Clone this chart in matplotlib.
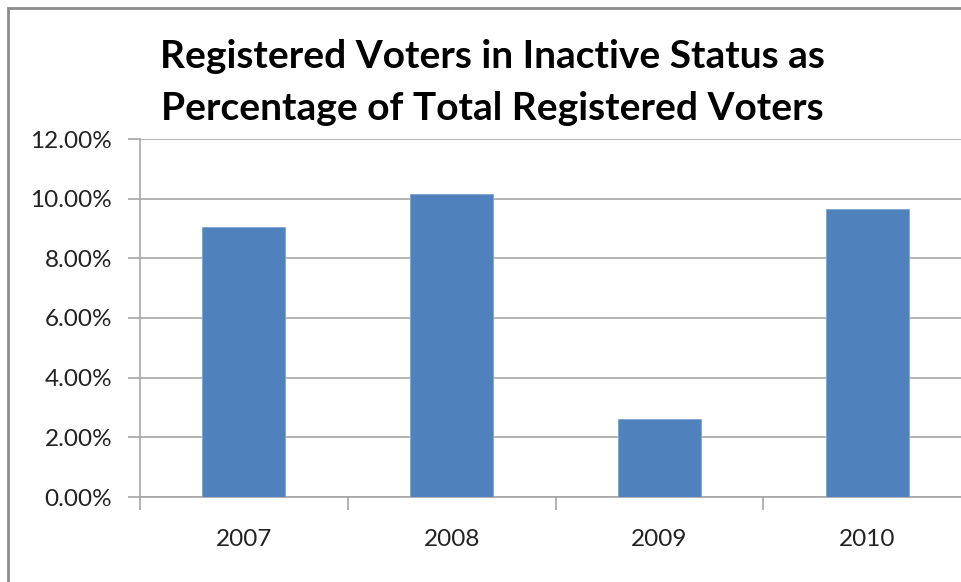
import numpy as np
import matplotlib
matplotlib.use("Agg")
import matplotlib.pyplot as plt
from matplotlib.ticker import FuncFormatter

years = ["2007", "2008", "2009", "2010"]
inactive_pct = [9.06, 10.15, 2.62, 9.66]
yticks = [0, 2, 4, 6, 8, 10, 12]
title_lines = ["Registered Voters in Inactive Status as",
               "Percentage of Total Registered Voters"]

plt.rcParams['font.family'] = ['Lato', 'DejaVu Sans']

fig = plt.figure(figsize=(9.61, 5.82), dpi=100)

# outer chart frame (runs off the right and bottom edges)
frame = plt.Rectangle((8 / 961, -0.1), 1.2, (582 - 8) / 582 + 0.1,
                      transform=fig.transFigure, fill=False,
                      edgecolor="#8c8c8c", linewidth=2.0)
fig.patches.append(frame)

ax = fig.add_axes([140 / 961, 85 / 582, 831 / 961, 358 / 582])
x = np.arange(len(years))
ax.bar(x, inactive_pct, width=0.4, color="#4F81BD", edgecolor="#7fa4d3",
       linewidth=0.6, zorder=3)

ax.set_xlim(-0.5, len(years) - 0.5)
ax.set_ylim(0, 12)
ax.set_yticks(yticks)
ax.yaxis.set_major_formatter(FuncFormatter(lambda v, p: f"{v:.2f}%"))
ax.set_xticks(x)
ax.set_xticklabels(years)
ax.set_xticks(np.arange(-0.5, len(years)), minor=True)

ax.grid(axis="y", color="#a6a6a6", linewidth=1.2, zorder=0)
for s in ["top", "right"]:
    ax.spines[s].set_visible(False)
ax.spines["left"].set_color("#a6a6a6")
ax.spines["bottom"].set_color("#a6a6a6")
ax.spines["left"].set_linewidth(1.2)
ax.spines["bottom"].set_linewidth(1.2)

ax.tick_params(axis="y", which="major", length=9, width=1.2, color="#a6a6a6",
               pad=11, labelsize=17.5, labelcolor="#222222")
ax.tick_params(axis="x", which="major", length=0, pad=23, labelsize=17.5,
               labelcolor="#222222")
ax.tick_params(axis="x", which="minor", length=9, width=1.2, color="#a6a6a6")

for i, line in enumerate(title_lines):
    fig.text(492 / 961, 1 - (57 + 51 * i) / 582, line,
             ha="center", va="center", fontsize=28, fontweight="bold",
             color="black")

fig.savefig("out.png", dpi=100)
